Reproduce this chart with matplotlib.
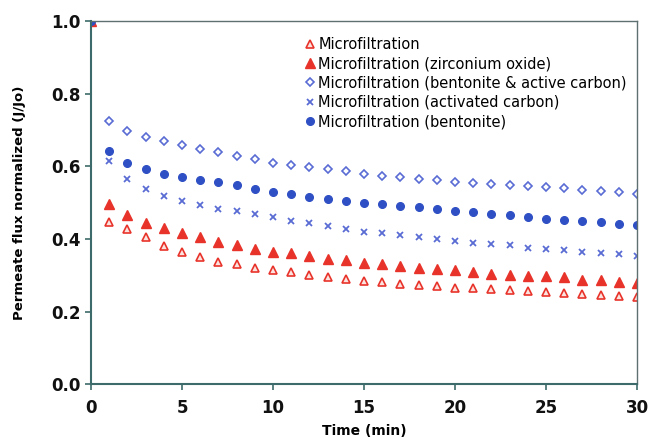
import matplotlib
matplotlib.use('Agg')
import matplotlib.pyplot as plt

time_min = list(range(0, 31))

mf = [1.0, 0.447, 0.426, 0.404, 0.381, 0.363, 0.350, 0.337, 0.330, 0.319, 0.314,
      0.308, 0.301, 0.296, 0.290, 0.285, 0.281, 0.277, 0.274, 0.270, 0.266,
      0.264, 0.262, 0.259, 0.256, 0.253, 0.251, 0.247, 0.245, 0.243, 0.240]
mf_zirconium = [1.0, 0.496, 0.465, 0.443, 0.429, 0.415, 0.404, 0.391, 0.383, 0.372, 0.364,
                0.360, 0.353, 0.344, 0.341, 0.335, 0.332, 0.325, 0.321, 0.316, 0.314,
                0.309, 0.304, 0.302, 0.299, 0.297, 0.294, 0.288, 0.286, 0.282, 0.278]
mf_bent_carbon = [1.0, 0.724, 0.698, 0.681, 0.669, 0.659, 0.648, 0.639, 0.629, 0.619, 0.610,
                  0.604, 0.598, 0.594, 0.586, 0.579, 0.574, 0.570, 0.566, 0.562, 0.558,
                  0.555, 0.551, 0.548, 0.545, 0.542, 0.539, 0.536, 0.533, 0.529, 0.525]
mf_act_carbon = [1.0, 0.614, 0.565, 0.537, 0.518, 0.504, 0.493, 0.482, 0.476, 0.469, 0.461,
                 0.450, 0.443, 0.435, 0.427, 0.420, 0.416, 0.410, 0.405, 0.400, 0.394,
                 0.390, 0.387, 0.383, 0.376, 0.372, 0.370, 0.364, 0.362, 0.358, 0.354]
mf_bentonite = [1.0, 0.642, 0.609, 0.592, 0.578, 0.570, 0.562, 0.556, 0.548, 0.538, 0.529,
                0.523, 0.515, 0.511, 0.505, 0.500, 0.496, 0.492, 0.487, 0.482, 0.476,
                0.473, 0.469, 0.465, 0.461, 0.456, 0.453, 0.450, 0.446, 0.442, 0.438]

labels = ['Microfiltration',
          'Microfiltration (zirconium oxide)',
          'Microfiltration (bentonite & active carbon)',
          'Microfiltration (activated carbon)',
          'Microfiltration (bentonite)']

red = '#e8332b'
blue = '#2f4fc4'
lblue = '#5a6cd4'

fig = plt.figure(figsize=(6.5, 4.41), dpi=100)
ax = fig.add_axes([0.14, 0.129, 0.84, 0.823])

ax.plot(time_min, mf, linestyle='none', marker='^', markersize=6,
        markerfacecolor='#fbe3e0', markeredgecolor=red, markeredgewidth=1.2, label=labels[0])
ax.plot(time_min, mf_zirconium, linestyle='none', marker='^', markersize=7,
        color=red, markeredgecolor=red, label=labels[1])
ax.plot(time_min, mf_bent_carbon, linestyle='none', marker='D', markersize=4.5,
        markerfacecolor='white', markeredgecolor=lblue, markeredgewidth=1.2, label=labels[2])
ax.plot(time_min, mf_act_carbon, linestyle='none', marker='x', markersize=4.5,
        color=lblue, markeredgewidth=1.3, label=labels[3])
ax.plot(time_min, mf_bentonite, linestyle='none', marker='o', markersize=5.5,
        color=blue, label=labels[4])

ax.set_xlim(0, 30)
ax.set_ylim(0, 1.0)
ax.set_xticks(range(0, 31, 5))
ax.set_yticks([0.0, 0.2, 0.4, 0.6, 0.8, 1.0])
ax.set_yticklabels(['0.0', '0.2', '0.4', '0.6', '0.8', '1.0'])
ax.tick_params(direction='out', length=4, width=1.2, color='#3d6b6b', labelsize=12)
ax.tick_params(axis='x', pad=7)
for lab in ax.get_xticklabels() + ax.get_yticklabels():
    lab.set_fontweight('bold')
    lab.set_color('#111111')

for side in ['left', 'bottom']:
    ax.spines[side].set_color('#3d6b6b')
    ax.spines[side].set_linewidth(1.5)
for side in ['top', 'right']:
    ax.spines[side].set_color('#5f7070')
    ax.spines[side].set_linewidth(1.0)

ax.set_xlabel('Time (min)', fontsize=10, fontweight='bold', labelpad=5)
ax.set_ylabel('Permeate flux normalized (J/Jo)', fontsize=9.5, fontweight='bold', labelpad=18)

ax.legend(loc='upper right', bbox_to_anchor=(1.0, 0.985), frameon=False, fontsize=10.5,
          handletextpad=0.1, handlelength=1.0, labelspacing=0.3, borderaxespad=0.3)

fig.savefig('out.png', dpi=100)
